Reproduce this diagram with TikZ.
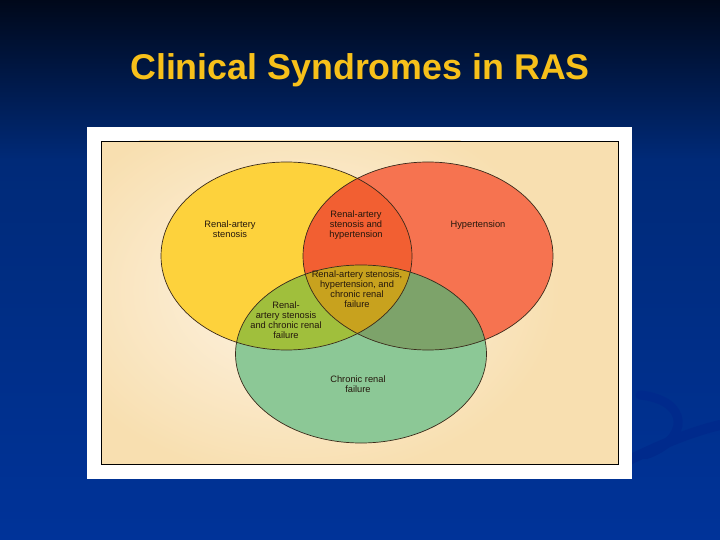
\documentclass[tikz,border=0pt]{standalone}
\usepackage{fontspec}
\setmainfont{Liberation Sans}
\usetikzlibrary{positioning}
\definecolor{bgtop}{HTML}{00081A}
\definecolor{bgmid}{HTML}{002A78}
\definecolor{bgbot}{HTML}{003399}
\definecolor{swirl}{HTML}{002A8C}
\definecolor{titlecol}{HTML}{F7C01A}
\definecolor{beige}{HTML}{F8DFB0}
\definecolor{beigelight}{HTML}{FDF4E6}
\definecolor{ycol}{HTML}{FDD23C}
\definecolor{rcol}{HTML}{F67350}
\definecolor{gcol}{HTML}{8CC896}
\definecolor{yrcol}{HTML}{F25F32}
\definecolor{ygcol}{HTML}{A0BF3C}
\definecolor{rgcol}{HTML}{7DA36A}
\definecolor{allcol}{HTML}{C8A21E}
\definecolor{txtcol}{HTML}{24170C}
\definecolor{linecol}{HTML}{3A2A1A}
\tikzset{
  lbl/.style={text=txtcol, align=center, font=\fontsize{9.3}{10}\selectfont, inner sep=0pt},
  outline/.style={draw=linecol, line width=0.7pt}
}
\begin{document}
\begin{tikzpicture}[x=1pt,y=-1pt]
\useasboundingbox (0,0) rectangle (720,540);
% background
\shade[top color=bgtop, bottom color=bgmid] (0,0) rectangle (720,160);
\shade[top color=bgmid, bottom color=bgbot] (0,159.5) rectangle (720,540);
% swirl
\draw[swirl, line width=9pt, line cap=round] (640,395) .. controls (690,400) and (690,440) .. (645,455);
\draw[swirl, line width=10pt, line cap=round] (625,462) .. controls (660,445) and (690,432) .. (720,425);
% white frame
\fill[white] (87,127) rectangle (632,479);
% beige box
\fill[beige] (101,141) rectangle (618,464);
\begin{scope}
\clip (101,141) rectangle (618,464);
\shade[inner color=beigelight, outer color=beige] (300,290) ellipse (260 and 190);
\end{scope}
\draw[black, line width=0.8pt] (101,141) rectangle (618,464);
% ellipses
\def\ye{(286.5,256) ellipse (125.5 and 94)}
\def\re{(428,256) ellipse (125 and 94)}
\def\ge{(361,354) ellipse (125.5 and 89)}
\fill[ycol] \ye;
\fill[rcol] \re;
\fill[gcol] \ge;
\begin{scope}\clip \ye; \fill[yrcol] \re; \end{scope}
\begin{scope}\clip \ye; \fill[ygcol] \ge; \end{scope}
\begin{scope}\clip \re; \fill[rgcol] \ge; \end{scope}
\begin{scope}\clip \ye; \clip \re; \fill[allcol] \ge; \end{scope}
\draw[outline] \ye;
\draw[outline] \re;
\draw[outline] \ge;
% title
\node[anchor=base, text=titlecol, font=\bfseries\fontsize{35.8}{40}\selectfont, inner sep=0pt] (title) at (360,80) {Clinical Syndromes in RAS};
% labels
\node[lbl] (ras) at (230,229) {Renal-artery\\stenosis};
\node[lbl] (rash) at (356,225) {Renal-artery\\stenosis and\\hypertension};
\node[lbl] (ht) at (478,225) {Hypertension};
\node[lbl] (all) at (357,289) {Renal-artery stenosis,\\hypertension, and\\chronic renal\\failure};
\node[lbl] (rasc) at (286,320) {Renal-\\artery stenosis\\and chronic renal\\failure};
\node[lbl] (crf) at (358,384) {Chronic renal\\failure};
\end{tikzpicture}
\end{document}
